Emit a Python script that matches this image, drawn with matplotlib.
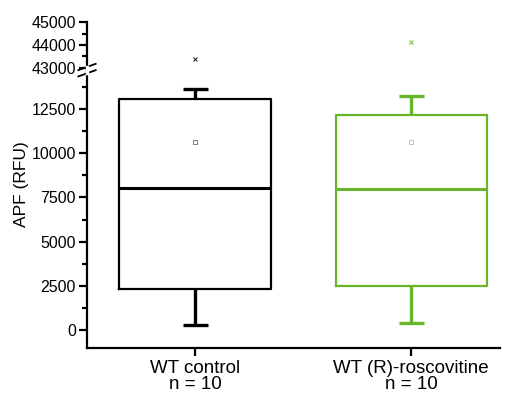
import numpy as np
import matplotlib.pyplot as plt

plt.rcParams['font.family'] = ['Liberation Sans', 'DejaVu Sans']

groups = ["WT control\nn = 10", "WT (R)-roscovitine\nn = 10"]
colors = ["#000000", "#68B42A"]
q1 = [2300, 2500]
median = [8050, 8000]
q3 = [13100, 12200]
whisk_lo = [300, 400]
whisk_hi = [13650, 13250]
means = [10650, 10650]
outliers = [43400, 44150]

stats = []
for i in range(len(groups)):
    stats.append(dict(med=median[i], q1=q1[i], q3=q3[i], whislo=whisk_lo[i],
                      whishi=whisk_hi[i], mean=means[i], fliers=[]))

fig = plt.figure(figsize=(5.09, 3.94), dpi=100)
ax_top = fig.add_axes([0.171, 0.819, 0.811, 0.125])
ax = fig.add_axes([0.171, 0.118, 0.811, 0.701])

pos = np.arange(len(groups))
for i, st in enumerate(stats):
    c = colors[i]
    ax.bxp([st], positions=[pos[i]], widths=0.70, showmeans=True,
           boxprops=dict(color=c, linewidth=1.6, zorder=3),
           medianprops=dict(color=c, linewidth=2.2, zorder=3),
           whiskerprops=dict(color=c, linewidth=2.4, solid_capstyle='butt', zorder=2),
           capprops=dict(color=c, linewidth=2.4, solid_capstyle='butt'),
           capwidths=0.115,
           meanprops=dict(marker='s', markersize=3.5, markerfacecolor='none',
                          markeredgecolor=c, markeredgewidth=0.6, alpha=0.6))
    ax_top.plot(pos[i], outliers[i], marker='x', markersize=3, color=c,
                markeredgewidth=0.8, linestyle='none', alpha=0.8)

for a in (ax, ax_top):
    a.set_xlim(-0.5, 1.41)
    a.spines['top'].set_visible(False)
    a.spines['right'].set_visible(False)
    a.spines['left'].set_linewidth(1.6)
    a.spines['bottom'].set_linewidth(1.6)
    a.tick_params(axis='y', which='major', length=6, width=1.6, labelsize=11.5, pad=2)
    a.tick_params(axis='y', which='minor', length=3.5, width=1.6)

ax.set_ylim(-1000, 14650)
ax.set_yticks([0, 2500, 5000, 7500, 10000, 12500])
ax.set_yticks(np.arange(1250, 14000, 2500), minor=True)
ax.set_xticks(pos)
ax.set_xticklabels(groups, fontsize=13.5, linespacing=0.95)
ax.tick_params(axis='x', length=6, width=1.6, pad=3)
ax.set_ylabel("APF (RFU)", fontsize=12.5)
ax.yaxis.set_label_coords(-0.14, 0.59)

ax_top.set_ylim(42850, 45000)
ax_top.set_yticks([43000, 44000, 45000])
ax_top.set_yticks([43500, 44500], minor=True)
ax_top.spines['bottom'].set_visible(False)
ax_top.set_xticks([])
ax_top.patch.set_alpha(0)

# axis break marks
x0 = 0.171
yb = 0.819
kw = dict(color='k', linewidth=1.3, transform=fig.transFigure, clip_on=False)
fig.add_artist(plt.Line2D([x0 - 0.017, x0 + 0.017], [yb + 0.003, yb + 0.019], **kw))
fig.add_artist(plt.Line2D([x0 - 0.017, x0 + 0.017], [yb - 0.013, yb + 0.003], **kw))
fig.add_artist(plt.Line2D([x0, x0], [yb - 0.005, yb + 0.010], color='white',
                          linewidth=2.5, transform=fig.transFigure, zorder=2))

fig.savefig("out.png", dpi=100)
